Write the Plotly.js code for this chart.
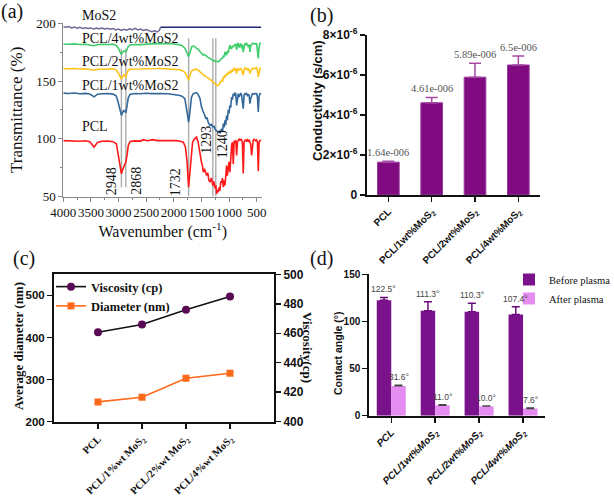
<!DOCTYPE html>
<html>
<head>
<meta charset="utf-8">
<script src="https://cdn.plot.ly/plotly-3.0.1.min.js"></script>
<style>html,body{margin:0;padding:0;background:#fff}#chart{width:614px;height:496px}</style>
</head>
<body>
<div id="chart"></div>
<script>
// ---------- Panel (a): FTIR spectra ----------
const wnPCL = [4000,3900,3800,3700,3600,3520,3443,3380,3300,3200,3100,3040,3004,2975,2948,2925,2905,2885,2868,2845,2824,2790,2700,2600,2552,2480,2377,2300,2200,2100,2000,1950,1888,1828,1790,1760,1732,1710,1690,1660,1630,1587,1560,1526,1500,1480,1466,1445,1420,1406,1385,1365,1346,1320,1293,1275,1255,1240,1225,1210,1195,1180,1165,1150,1134,1120,1104,1090,1074,1060,1044,1030,1014,1000,984,970,954,940,923,908,893,878,863,848,833,818,803,788,773,758,743,728,712,697,682,667,652,637,622,607,592,577,562,547,531,516,501,486,471,456,441,420];
const tPCL = [98.4,98.2,98.6,97.9,98.3,97.4,92.8,96.9,97.8,98.1,97.5,95.7,85.6,76,69.6,73.5,75.4,77,79.8,86,94.2,97.6,98.2,98.0,99.2,98.3,99.2,98.4,98.5,98.2,98.3,98.4,97.9,97.1,93,80,58,70,86,97,99.5,101.5,97,85.6,80,76,71.1,74,69,68.2,70.5,64,62.4,66,59.5,63,57,60,52.3,56,53.7,58,55,63,62.4,66,58,64,59.5,70,76.9,68,74,80,71.1,88,94.2,97,78,97.5,97.1,99,85.6,97,98.6,100,98.8,99.5,99.2,96,70,97.5,98.6,99,97.5,99,98,99.2,97.1,95,85.6,97,98.6,99.5,99,98.2,99,97,72,97,98.6,98.3];

const wn1 = [4000,3900,3800,3700,3600,3520,3443,3380,3300,3200,3100,3040,3004,2975,2948,2925,2905,2885,2868,2845,2824,2790,2700,2600,2500,2400,2300,2250,2100,2000,1950,1888,1840,1800,1770,1750,1732,1715,1700,1680,1647,1620,1587,1560,1526,1500,1480,1466,1445,1420,1400,1375,1346,1320,1293,1270,1250,1225,1210,1195,1175,1160,1134,1115,1104,1085,1074,1060,1044,1030,1014,1000,984,970,954,940,923,908,893,878,863,848,833,818,803,788,773,758,743,728,712,697,682,667,652,637,622,607,592,577,562,547,531,516,501,486,471,456,441,420];
const t1 = [139.5,139.2,139.6,139.0,139.3,138.8,136.3,138.6,139.0,139.2,138.7,137,131,125,120.3,123,124.5,124,122.5,129,135.5,138.5,139.2,139.0,139.4,139.1,139.5,139.1,139.0,138.5,138.3,137.5,136.5,134.8,126.1,120,114.5,120.3,127,136,139.1,139.8,140.0,138.5,134.8,127.6,124,123.2,121,117.4,118.5,114,111.6,112.5,110.2,110.8,108,107.3,106.5,105.8,106.5,104.7,108.7,107,113.1,110,116.0,112,120,116,125,122,129,127,136.2,134,139.1,137,140.0,138.5,129,137.7,139.1,136.2,138.7,139.5,137.7,132,126.1,138,139.1,138.5,139.3,137.5,138.3,137.7,130.5,135,138.3,139.0,139.1,138.5,139.2,139.0,139.1,136,123.2,137,139.1,139.0];

const wn2 = [4000,3900,3800,3700,3600,3520,3443,3380,3300,3200,3100,3040,3004,2975,2948,2925,2905,2885,2868,2845,2824,2790,2700,2600,2500,2400,2300,2250,2100,2000,1950,1888,1828,1790,1760,1732,1710,1690,1660,1630,1587,1560,1526,1500,1480,1466,1445,1420,1406,1380,1346,1320,1293,1270,1250,1225,1210,1195,1180,1165,1150,1134,1115,1104,1085,1074,1060,1044,1030,1014,1000,984,970,954,940,923,908,893,878,863,848,833,818,803,788,773,758,743,728,712,697,682,667,652,637,622,607,592,577,562,547,531,516,501,486,471,456,441,420];
const t2 = [160.8,160.5,160.9,160.4,160.6,160.2,159.4,160.2,160.5,160.3,160.6,159.5,157,153.5,151.6,154,155.5,154.5,153.6,157,159.4,160.2,160.6,160.4,160.7,160.5,160.8,160.9,160.6,160.3,160.3,159.8,158.5,157,154,150.7,154,158,159.4,160.0,160.3,159.5,158.0,156.5,155.5,155.1,154.5,154,153.6,152.5,151.6,150.5,149.3,148.5,147.2,146.5,145.8,146.2,147.5,147.8,149.5,150.7,150,153.6,152.5,155,154,156.5,155.5,157.5,156.8,158.0,157,159,158.5,160.3,159.5,160.9,160,156.5,160.3,160.9,159.5,160.2,160.6,159.4,158,155.2,160,161.2,160.5,161,159.8,160.5,159.8,156.5,158.5,160.6,161,160.9,160.6,161.2,160.8,161.5,159,153.6,159.5,160.9,161.0];

const wn4 = [4000,3900,3800,3700,3600,3520,3443,3380,3300,3200,3100,3040,3004,2975,2948,2925,2905,2885,2868,2845,2824,2790,2700,2600,2500,2400,2300,2250,2150,2050,1950,1900,1850,1800,1770,1750,1732,1715,1700,1677,1647,1620,1587,1560,1526,1500,1480,1466,1445,1420,1406,1380,1346,1320,1293,1270,1250,1225,1195,1175,1160,1134,1115,1104,1085,1074,1060,1044,1030,1014,1000,984,970,954,940,923,908,893,878,863,848,833,818,803,788,773,758,743,728,712,697,682,667,652,637,622,607,592,577,562,547,531,516,501,486,471,456,441,420];
const t4 = [182.1,181.8,182.2,181.6,181.9,181.5,180.6,181.4,181.8,181.6,181.9,180.8,178.5,175.5,173.0,175,176,175.8,175.3,177.5,180,181.2,181.7,181.5,181.9,182.2,182.4,182.6,182.3,182.5,181.7,181.5,180.6,178.5,175.5,172.5,171.0,173.5,177,179.7,180.3,179.7,178.2,177.5,175.5,174.0,173.2,172.4,173,171.8,171.0,170.5,169.6,168.6,167.8,167.2,167.5,166.9,166.7,167.5,168.5,169.6,170,172,171,175.3,173.8,172.4,176,174.5,178,181.0,178.5,178.2,180,179.7,180.6,181.7,181.5,177,182.4,182.6,179,182,182.6,178.2,181.5,175,181,182.6,181.8,182.6,181,179.7,181.5,175.3,180.5,182.2,182.6,182.6,182.3,182.4,182.0,182.6,178,169.6,180,182.6,182.4];

const wnMoS2 = [4000,3950,3900,3850,3800,3750,3700,3650,3600,3550,3500,3450,3400,3350,3300,3250,3200,3150,3100,3050,3000,2950,2900,2850,2800,2750,2700,2650,2600,2550,2500,2450,2400,2350,2300,2260,2240];
const tMoS2 = [197,196.5,197.2,196,196.8,195.8,196.5,195.5,196.2,195.5,196,195,195.8,195.2,195.8,195,195.6,194.8,195.5,194.3,195,193.8,194.8,194,195.2,194.5,195.6,194.3,195,193.8,194.5,193.5,192.8,193.5,192.5,194,196.6];
const wnMoS2flat = [2240, 420];
const tMoS2flat = [196.6, 196.6];

const peakWn = [2948, 2868, 1732, 1293, 1240];
const peakLabels = ['2948', '2868', '1732', '1293', '1240'];
const seriesNames = ['MoS2', 'PCL/4wt%MoS2', 'PCL/2wt%MoS2', 'PCL/1wt%MoS2', 'PCL'];

// ---------- Panel (b): conductivity ----------
const catsB = ['PCL', 'PCL/1wt%MoS<sub>2</sub>', 'PCL/2wt%MoS<sub>2</sub>', 'PCL/4wt%MoS<sub>2</sub>'];
const conductivity = [1.64e-6, 4.61e-6, 5.89e-6, 6.5e-6];
const conductivityErr = [0.05e-6, 0.27e-6, 0.70e-6, 0.45e-6];
const conductivityLabels = ['1.64e-006', '4.61e-006', '5.89e-006', '6.5e-006'];
const condTickVals = [0, 2e-6, 4e-6, 6e-6, 8e-6];
const condTickText = ['0', '2×10<sup>-6</sup>', '4×10<sup>-6</sup>', '6×10<sup>-6</sup>', '8×10<sup>-6</sup>'];

// ---------- Panel (c): viscosity & diameter ----------
const catsC = ['PCL', 'PCL/1%wt MoS<sub>2</sub>', 'PCL/2%wt MoS<sub>2</sub>', 'PCL/4%wt MoS<sub>2</sub>'];
const viscosity = [460.7, 466, 476, 485];
const diameter = [247, 258, 303, 315];

// ---------- Panel (d): contact angle ----------
const catsD = ['PCL', 'PCL/1wt%MoS<sub>2</sub>', 'PCL/2wt%MoS<sub>2</sub>', 'PCL/4wt%MoS<sub>2</sub>'];
const before = [122.5, 111.3, 110.3, 107.4];
const beforeErr = [3.0, 9.6, 8.9, 8.2];
const after = [31.6, 11.0, 10.0, 7.6];
const afterErr = [0.9, 0.8, 0.5, 0.8];

const SERIF = 'Liberation Serif, Times New Roman, serif';
const SANS = 'Liberation Sans, Arial, sans-serif';
const W = 614, H = 496;
const px = v => v / W;
const py = v => 1 - v / H;

const traces = [
  {x: wnPCL, y: tPCL, xaxis: 'x', yaxis: 'y', mode: 'lines', line: {color: '#ff1a1a', width: 1.6}, showlegend: false},
  {x: wn1, y: t1, xaxis: 'x', yaxis: 'y', mode: 'lines', line: {color: '#35689a', width: 1.6}, showlegend: false},
  {x: wn2, y: t2, xaxis: 'x', yaxis: 'y', mode: 'lines', line: {color: '#ffc21a', width: 1.6}, showlegend: false},
  {x: wn4, y: t4, xaxis: 'x', yaxis: 'y', mode: 'lines', line: {color: '#3fcc6b', width: 1.6}, showlegend: false},
  {x: wnMoS2, y: tMoS2, xaxis: 'x', yaxis: 'y', mode: 'lines', line: {color: '#6c6c98', width: 1.5}, showlegend: false},
  {x: wnMoS2flat, y: tMoS2flat, xaxis: 'x', yaxis: 'y', mode: 'lines', line: {color: '#1f2870', width: 1.6}, showlegend: false},
  // (b)
  {type: 'bar', x: catsB, y: conductivity, xaxis: 'x2', yaxis: 'y2', width: 0.5, showlegend: false,
   marker: {color: '#800a80', line: {color: '#9a3a9a', width: 1}},
   error_y: {type: 'data', array: conductivityErr, arrayminus: [0,0,0,0], symmetric: false, color: '#a54aa5', thickness: 1.5, width: 6}},
  // (c)
  {x: catsC, y: viscosity, xaxis: 'x3', yaxis: 'y4', mode: 'lines+markers', name: '<b>Viscosity (cp)</b>', legend: 'legend',
   line: {color: '#111', width: 1.6}, marker: {symbol: 'circle', size: 8, color: '#5a0a55'}},
  {x: catsC, y: diameter, xaxis: 'x3', yaxis: 'y3', mode: 'lines+markers', name: '<b>Diameter (nm)</b>', legend: 'legend',
   line: {color: '#ff6a1a', width: 1.6}, marker: {symbol: 'square', size: 7, color: '#ff6a1a'}},
  // (d)
  {type: 'bar', x: catsD, y: before, xaxis: 'x5', yaxis: 'y5', name: 'Before plasma', legend: 'legend2',
   marker: {color: '#7a128c'},
   error_y: {type: 'data', array: beforeErr, arrayminus: [0,0,0,0], symmetric: false, color: '#6a0a7a', thickness: 1.5, width: 4}},
  {type: 'bar', x: catsD, y: after, xaxis: 'x5', yaxis: 'y5', name: 'After plasma', legend: 'legend2',
   marker: {color: '#e48cf0'},
   error_y: {type: 'data', array: afterErr, arrayminus: [0,0,0,0], symmetric: false, color: '#444', thickness: 1.2, width: 4}}
];

const annotations = [];
const addText = (t, x, y, font, extra) => annotations.push(Object.assign({text: t, xref: 'paper', yref: 'paper',
  x: px(x), y: py(y), xanchor: 'center', yanchor: 'middle', showarrow: false, font: font}, extra || {}));

// panel letters
[['(a)', 12, 11], ['(b)', 321, 16], ['(c)', 24, 258], ['(d)', 321, 258]].forEach(([t, x, y]) =>
  addText(t, x, y, {family: SERIF, size: 20, color: '#111'}));
// series names in (a)
const seriesLabelY = [16, 39, 61.7, 86, 126.7];
seriesNames.forEach((t, i) => addText(t, 80, seriesLabelY[i], {family: SERIF, size: 14, color: '#111'}, {xanchor: 'left'}));
// peak labels in (a)
const peakLabelY = [63.5, 63.5, 62, 99, 95];
const peakShift = [-10, 11, -13, -6, 7];
peakLabels.forEach((t, i) => {
  annotations.push({text: t, xref: 'x', yref: 'y', x: peakWn[i], y: peakLabelY[i], xshift: peakShift[i], textangle: -90,
    xanchor: 'center', yanchor: 'middle', showarrow: false, font: {family: SERIF, size: 14, color: '#111'}});
});
// (b) value labels
catsB.forEach((c, i) => {
  annotations.push({text: conductivityLabels[i], xref: 'x2', yref: 'y2', x: c, y: conductivity[i] + conductivityErr[i],
    yanchor: 'bottom', yshift: 1, showarrow: false, font: {family: SERIF, size: 10.5, color: '#555'}});
});
// (d) value labels
catsD.forEach((c, i) => {
  annotations.push({text: before[i].toFixed(1) + '°', xref: 'x5', yref: 'y5', x: c, y: before[i] + beforeErr[i],
    xshift: -7.3, yanchor: 'bottom', yshift: 1, showarrow: false, font: {family: SANS, size: 8.5, color: '#444'}});
  annotations.push({text: after[i].toFixed(1) + '°', xref: 'x5', yref: 'y5', x: c, y: after[i] + afterErr[i],
    xshift: 7.3, yanchor: 'bottom', yshift: 1, showarrow: false, font: {family: SANS, size: 8.5, color: '#444'}});
});
// axis titles placed precisely
addText('<b>Conductivity (s/cm)</b>', 317, 101, {family: SANS, size: 13, color: '#111'}, {textangle: -90});
addText('<b>Average diameter (nm)</b>', 18, 346, {family: SERIF, size: 13, color: '#111'}, {textangle: -90});
addText('<b>Viscosity(cp)</b>', 308, 347, {family: SERIF, size: 13, color: '#111'}, {textangle: 90});
addText('<b>Contact angle (°)</b>', 338, 353, {family: SANS, size: 10.5, color: '#111'}, {textangle: -90});

const peakTop = [178, 178, 187, 187, 187];
const peakBottom = [58, 58, 50, 50, 50];
const shapes = peakWn.map((w, i) => ({type: 'line', xref: 'x', yref: 'y', x0: w, x1: w, y0: peakBottom[i], y1: peakTop[i],
  layer: 'below', line: {color: 'rgba(150,150,150,0.8)', width: 1.4}}));

const grayAxis = {showline: true, linecolor: '#888', linewidth: 1, ticks: 'outside', ticklen: 4, tickcolor: '#888',
  showgrid: false, zeroline: false, tickfont: {family: SERIF, size: 13, color: '#111'}};
const blackAxis = {showline: true, linecolor: '#111', linewidth: 2, ticks: 'outside', ticklen: 5, tickwidth: 1.5, tickcolor: '#111',
  showgrid: false, zeroline: false};

const layout = {
  width: W, height: H, margin: {l: 0, r: 0, t: 0, b: 0, autoexpand: false},
  paper_bgcolor: '#fff', plot_bgcolor: 'rgba(0,0,0,0)',
  font: {family: SERIF, color: '#111'},
  barmode: 'group', bargap: 0.34, bargroupgap: 0,
  xaxis: Object.assign({}, grayAxis, {domain: [px(63.3), px(262.2)], range: [4000, 400], anchor: 'y',
    tickvals: [4000,3500,3000,2500,2000,1500,1000,500], tickangle: 0,
    minor: {ticks: 'outside', ticklen: 2, dtick: 250, tick0: 0, tickcolor: '#888'},
    title: {text: 'Wavenumber (cm<sup>-1</sup>)', font: {family: SERIF, size: 16, color: '#111'}, standoff: 1}}),
  yaxis: Object.assign({}, grayAxis, {domain: [py(196.5), py(23.3)], range: [50, 200], anchor: 'x',
    tickvals: [50, 100, 150, 200],
    minor: {ticks: 'outside', ticklen: 2, dtick: 25, tick0: 0, tickcolor: '#888'},
    title: {text: 'Transmittance (%)', font: {family: SERIF, size: 17, color: '#111'}, standoff: 9}}),
  xaxis2: Object.assign({}, blackAxis, {domain: [px(366.7), px(540)], range: [-0.5, 3.5], anchor: 'y2', type: 'category',
    tickangle: -45, tickfont: {family: SANS, size: 10, weight: 'bold', color: '#111'}}),
  yaxis2: Object.assign({}, blackAxis, {domain: [py(195), py(35)], range: [0, 8e-6], anchor: 'x2',
    tickvals: condTickVals, ticktext: condTickText, tickfont: {family: SANS, size: 12, weight: 'bold', color: '#111'}}),
  xaxis3: Object.assign({}, blackAxis, {domain: [px(54), px(274)], range: [-1, 4], anchor: 'y3', type: 'category',
    mirror: true, tickangle: -45, ticklen: 5, tickfont: {family: SERIF, size: 10.5, weight: 'bold', color: '#111'}}),
  yaxis3: Object.assign({}, blackAxis, {domain: [py(421.7), py(274.3)], range: [200, 550], anchor: 'x3',
    tickvals: [200, 300, 400, 500], tickfont: {family: SANS, size: 11.5, weight: 'bold', color: '#111'}}),
  yaxis4: Object.assign({}, blackAxis, {overlaying: 'y3', side: 'right', anchor: 'x3', range: [400, 500],
    tickvals: [400, 420, 440, 460, 480, 500], tickfont: {family: SANS, size: 12, weight: 'bold', color: '#111'}}),
  xaxis5: Object.assign({}, blackAxis, {domain: [px(369.3), px(545)], range: [-0.5, 3.5], anchor: 'y5', type: 'category',
    tickangle: -45, tickfont: {family: SANS, size: 10, weight: 'bold', style: 'italic', color: '#111'}}),
  yaxis5: Object.assign({}, blackAxis, {domain: [py(415.7), py(274.3)], range: [0, 150], anchor: 'x5',
    tickvals: [0, 50, 100, 150], tickfont: {family: SANS, size: 10, weight: 'bold', color: '#111'}}),
  legend: {x: px(51), y: py(272), xanchor: 'left', yanchor: 'top', bgcolor: 'rgba(0,0,0,0)', itemwidth: 30,
    font: {family: SERIF, size: 12.5, color: '#111'}},
  legend2: {x: px(509), y: py(265), xanchor: 'left', yanchor: 'top', bgcolor: 'rgba(0,0,0,0)', itemwidth: 30,
    font: {family: SERIF, size: 10.5, color: '#111'}},
  annotations: annotations,
  shapes: shapes
};

Plotly.newPlot('chart', traces, layout, {staticPlot: true, displayModeBar: false});
</script>
</body>
</html>
